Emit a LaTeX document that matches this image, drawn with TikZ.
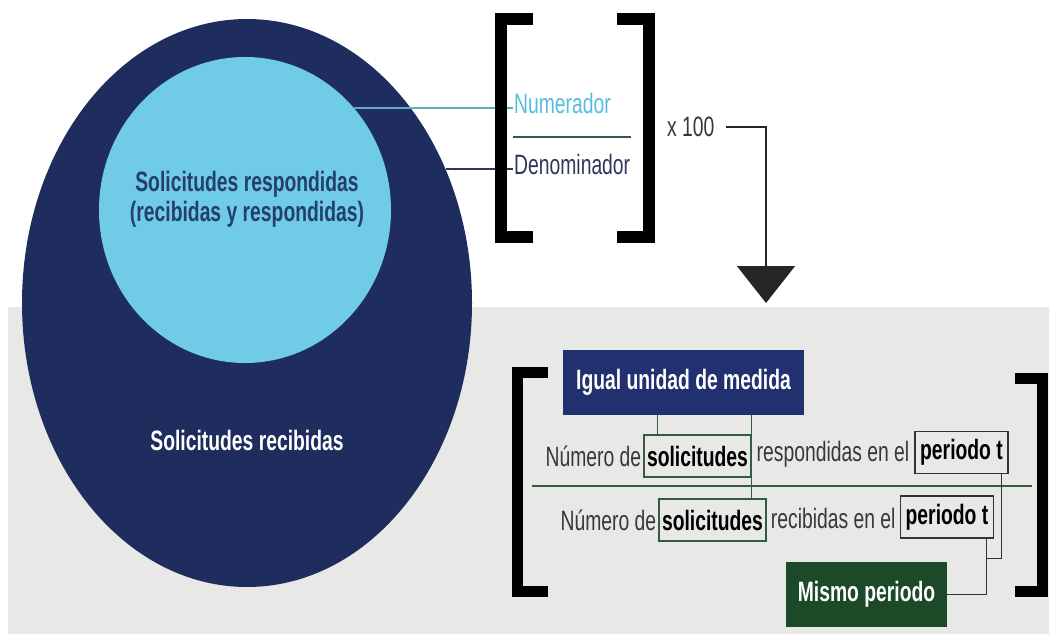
\documentclass[tikz,border=0pt]{standalone}
\usepackage{fontspec}
\setmainfont{Liberation Sans}[FakeStretch=0.69]
\usetikzlibrary{shapes.geometric,positioning,calc,arrows.meta}
\definecolor{deepnavy}{RGB}{31,45,94}
\definecolor{boxnavy}{RGB}{33,48,110}
\definecolor{skyblue}{RGB}{112,203,230}
\definecolor{numblue}{RGB}{88,188,224}
\definecolor{respnavy}{RGB}{36,62,110}
\definecolor{panelgray}{RGB}{232,232,231}
\definecolor{forestgreen}{RGB}{28,74,40}
\definecolor{linegreen}{RGB}{52,92,64}
\definecolor{inkgray}{RGB}{55,55,60}
\definecolor{denomnavy}{RGB}{45,55,90}

\begin{document}
\begin{tikzpicture}[x=1pt,y=-1pt,
    txt/.style={font=\fontsize{28}{30}\selectfont,inner sep=1pt},
    boldtxt/.style={font=\fontsize{28}{30}\selectfont\bfseries,inner sep=1pt},
    wordbox/.style={boldtxt,draw=linegreen,line width=1.2pt,text=black,
        minimum width=107pt,minimum height=42pt},
    perbox/.style={boldtxt,draw=black!80,line width=1.2pt,text=black,
        minimum width=93pt,minimum height=42pt},
    brk/.style={line width=12pt,black,line join=miter},
    link/.style={line width=1.2pt,linegreen},
    plink/.style={line width=1.2pt,black!80}]
    \useasboundingbox (0,0) rectangle (1049,634);

    % lower panel
    \fill[panelgray] (8,307) rectangle (1049,634);

    % sets
    \node[ellipse,fill=deepnavy,minimum width=450pt,minimum height=568pt,inner sep=0pt] (rec) at (247,303) {};
    \node[ellipse,fill=skyblue,minimum width=292pt,minimum height=306pt,inner sep=0pt] (resp) at (245,210) {};
    \node[boldtxt,text=respnavy,align=center] (resptxt) at (247,199) {Solicitudes respondidas\\(recibidas y respondidas)};
    \node[boldtxt,text=white] (rectxt) at (247,440) {Solicitudes recibidas};

    % fraction at the top
    \node[txt,text=numblue,anchor=west] (num) at (513,103) {Numerador};
    \node[txt,text=denomnavy,anchor=west] (den) at (513,164) {Denominador};
    \coordinate (barlevel) at (0,137);
    \draw[line width=2pt,linegreen] (den.west |- barlevel) -- (den.east |- barlevel);
    \draw[line width=1.5pt,skyblue!85!black] (resp.43) -- (resp.43 -| num.west);
    \draw[line width=1.5pt,denomnavy] (rec.34) -- (rec.34 -| den.west);
    \draw[brk] (533,19) -- (501,19) -- (501,237) -- (533,237);
    \draw[brk] (617,19) -- (649,19) -- (649,237) -- (617,237);

    % x 100 and the arrow down
    \node[txt,text=inkgray,anchor=west] (times) at (666,127) {x 100};
    \coordinate (drop) at (766,303);
    \draw[line width=1.5pt,black!85,-{Triangle[width=58pt,length=37pt]}] ([xshift=10pt]times.east) -| (drop);

    % fraction at the bottom
    \node[boldtxt,fill=boxnavy,text=white,minimum width=241pt,minimum height=65pt] (igual) at (683.5,382.5) {Igual unidad de medida};
    \node[wordbox] (sol1) at (697.5,456) {solicitudes};
    \node[perbox] (per1) at (961.5,452.5) {periodo t};
    \node[txt,text=inkgray,left=1pt of sol1] (head1) {Número de};
    \node[txt,text=inkgray] (mid1) at ($(sol1.east)!.5!(per1.west)$) {respondidas en el};
    \draw[line width=2pt,linegreen] (532,486) -- (1032,486);
    \node[wordbox] (sol2) at (712.5,520) {solicitudes};
    \node[perbox] (per2) at (947,517) {periodo t};
    \node[txt,text=inkgray,left=1pt of sol2] (head2) {Número de};
    \node[txt,text=inkgray] (mid2) at ($(sol2.east)!.5!(per2.west)$) {recibidas en el};
    \node[boldtxt,fill=forestgreen,text=white,minimum width=161pt,minimum height=65pt] (mismo) at (866.5,594.5) {Mismo periodo};

    \draw[link] ([xshift=14pt]sol1.north west) -- ([xshift=14pt]sol1.north west |- igual.south);
    \draw[link] ([xshift=-15pt]sol2.north east) -- ([xshift=-15pt]sol2.north east |- igual.south);
    \draw[plink] ([xshift=-8pt]per2.south east) |- (mismo.east);
    \draw[plink] ([xshift=-7pt]per1.south east) |- ([xshift=-8pt,yshift=-20pt]per2.south east);

    \draw[brk,line width=11pt] (548,372.5) -- (517.5,372.5) -- (517.5,591) -- (548,591);
    \draw[brk,line width=11pt] (1015,378) -- (1042.5,378) -- (1042.5,591) -- (1015,591);
\end{tikzpicture}
\end{document}
